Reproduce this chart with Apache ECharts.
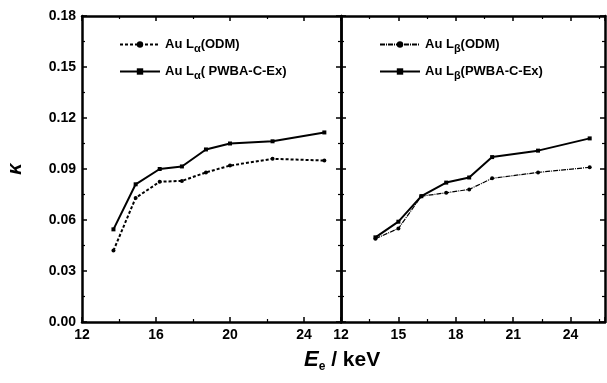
<!DOCTYPE html>
<html>
<head>
<meta charset="utf-8">
<script src="https://cdn.jsdelivr.net/npm/echarts@6/dist/echarts.min.js"></script>
<style>
  html, body { margin: 0; padding: 0; background: #fff; }
  #main { width: 607px; height: 383px; }
</style>
</head>
<body>
<div id="main"></div>
<script>
// electron energy (keV) and kappa values
const energyAlpha = [13.7, 14.9, 16.2, 17.4, 18.7, 20.0, 22.3, 25.1];
const alphaODM = [0.042, 0.073, 0.0825, 0.083, 0.088, 0.092, 0.096, 0.095];
const alphaPWBA = [0.0545, 0.081, 0.090, 0.0915, 0.1015, 0.105, 0.1063, 0.1115];

const energyBeta = [13.8, 15.0, 16.2, 17.5, 18.7, 19.9, 22.3, 25.0];
const betaODM = [0.049, 0.055, 0.074, 0.076, 0.078, 0.0845, 0.088, 0.091];
const betaPWBA = [0.0498, 0.059, 0.074, 0.082, 0.085, 0.097, 0.1008, 0.108];

const FONT = 'Liberation Sans';
const legendLabels = {
	'Au Lα(ODM)': 'Au L{sub|α}(ODM)',
	'Au Lα( PWBA-C-Ex)': 'Au L{sub|α}( PWBA-C-Ex)',
	'Au Lβ(ODM)': 'Au L{sub|β}(ODM)',
	'Au Lβ(PWBA-C-Ex)': 'Au L{sub|β}(PWBA-C-Ex)',
};

function pairs(xs, ys) {
	return xs.map((x, i) => [x, ys[i]]);
}

function xAxisOf(grid, pos, interval, max, labels) {
	return {
		type: 'value',
		gridIndex: grid,
		position: pos,
		min: 12,
		max: max,
		interval: interval,
		axisLine: { show: true, onZero: false, lineStyle: { color: '#000', width: 2.5 } },
		axisTick: { show: true, inside: true, length: 5, lineStyle: { color: '#000', width: 1.5 } },
		minorTick: { show: true, splitNumber: 2, length: 3, lineStyle: { color: '#000', width: 1.2 } },
		splitLine: { show: false },
		axisLabel: {
			show: labels,
			showMaxLabel: false,
			color: '#000',
			fontFamily: FONT,
			fontWeight: 'bold',
			fontSize: 14,
			margin: 6,
		},
	};
}

function yAxisOf(grid, pos, labels) {
	const ax = {
		type: 'value',
		gridIndex: grid,
		position: pos,
		min: 0,
		max: 0.18,
		interval: 0.03,
		axisLine: { show: true, onZero: false, lineStyle: { color: '#000', width: 2.5 } },
		axisTick: { show: true, inside: true, length: 5, lineStyle: { color: '#000', width: 1.5 } },
		minorTick: { show: true, splitNumber: 2, length: 3, lineStyle: { color: '#000', width: 1.2 } },
		splitLine: { show: false },
		axisLabel: {
			show: labels,
			color: '#000',
			fontFamily: FONT,
			fontWeight: 'bold',
			fontSize: 14,
			margin: 6,
			formatter: (v) => v.toFixed(2),
		},
	};
	if (labels) {
		ax.name = 'κ';
		ax.nameLocation = 'middle';
		ax.nameGap = 57;
		ax.nameTextStyle = {
			color: '#000',
			fontFamily: FONT,
			fontStyle: 'italic',
			fontWeight: 'bold',
			fontSize: 20,
		};
	}
	return ax;
}

function legendOf(left, names) {
	return {
		left: left,
		top: 33,
		orient: 'vertical',
		itemGap: 11,
		itemWidth: 40,
		itemHeight: 8,
		data: names,
		formatter: (name) => legendLabels[name],
		textStyle: {
			color: '#000',
			fontFamily: FONT,
			fontWeight: 'bold',
			fontSize: 13,
			rich: {
				sub: {
					fontFamily: FONT,
					fontWeight: 'bold',
					fontSize: 11,
					verticalAlign: 'bottom',
					padding: [8, 0, 0, 0],
				},
			},
		},
	};
}

const chart = echarts.init(document.getElementById('main'), null, { renderer: 'canvas' });

chart.setOption({
	backgroundColor: '#fff',
	animation: false,
	grid: [
		{ left: 82, right: 266, top: 16, bottom: 61 },
		{ left: 341, right: 2, top: 16, bottom: 61 },
	],
	xAxis: [
		xAxisOf(0, 'bottom', 4, 26, true),
		xAxisOf(0, 'top', 4, 26, false),
		xAxisOf(1, 'bottom', 3, 25.8, true),
		xAxisOf(1, 'top', 3, 25.8, false),
	],
	yAxis: [
		yAxisOf(0, 'left', true),
		yAxisOf(0, 'right', false),
		yAxisOf(1, 'left', false),
		yAxisOf(1, 'right', false),
	],
	legend: [
		legendOf(114, ['Au Lα(ODM)', 'Au Lα( PWBA-C-Ex)']),
		legendOf(374, ['Au Lβ(ODM)', 'Au Lβ(PWBA-C-Ex)']),
	],
	graphic: [
		{
			type: 'text',
			left: 304,
			top: 349,
			style: {
				text: '{i|E}{s|e} / keV',
				fill: '#000',
				font: 'bold 21px "Liberation Sans"',
				rich: {
					i: { fontFamily: FONT, fontStyle: 'italic', fontWeight: 'bold', fontSize: 22 },
					s: { fontFamily: FONT, fontWeight: 'bold', fontSize: 12, verticalAlign: 'bottom', padding: [13, 0, 0, 0] },
				},
			},
		},
	],
	series: [
		{
			name: 'Au Lα(ODM)',
			type: 'line',
			xAxisIndex: 0,
			yAxisIndex: 0,
			data: pairs(energyAlpha, alphaODM),
			symbol: 'circle',
			symbolSize: 4,
			itemStyle: { color: '#000' },
			lineStyle: { color: '#000', width: 2, type: [3, 2] },
		},
		{
			name: 'Au Lα( PWBA-C-Ex)',
			type: 'line',
			xAxisIndex: 0,
			yAxisIndex: 0,
			data: pairs(energyAlpha, alphaPWBA),
			symbol: 'rect',
			symbolSize: 4,
			itemStyle: { color: '#000' },
			lineStyle: { color: '#000', width: 2 },
		},
		{
			name: 'Au Lβ(ODM)',
			type: 'line',
			xAxisIndex: 2,
			yAxisIndex: 2,
			data: pairs(energyBeta, betaODM),
			symbol: 'circle',
			symbolSize: 4,
			itemStyle: { color: '#000' },
			lineStyle: { color: '#000', width: 1.2, type: [5, 1, 1, 1] },
		},
		{
			name: 'Au Lβ(PWBA-C-Ex)',
			type: 'line',
			xAxisIndex: 2,
			yAxisIndex: 2,
			data: pairs(energyBeta, betaPWBA),
			symbol: 'rect',
			symbolSize: 4,
			itemStyle: { color: '#000' },
			lineStyle: { color: '#000', width: 2 },
		},
	],
});
</script>
</body>
</html>
